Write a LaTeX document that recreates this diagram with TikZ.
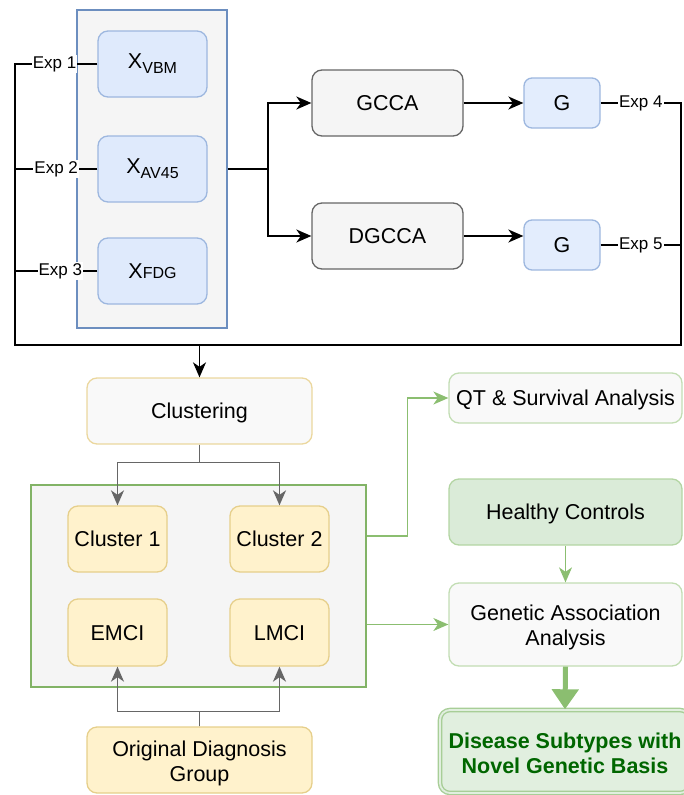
\documentclass[tikz,border=0pt]{standalone}
\usepackage{fontspec}
\setmainfont{Liberation Sans}
\usetikzlibrary{arrows.meta,calc}
\definecolor{bstroke}{HTML}{6C8EBF}
\definecolor{xstroke}{HTML}{9DB7DF}
\definecolor{xfill}{HTML}{DFEAFC}
\definecolor{gfill}{HTML}{E3EDFD}
\definecolor{grayfill}{HTML}{F5F5F5}
\definecolor{graystroke}{HTML}{666666}
\definecolor{clstroke}{HTML}{EBD79E}
\definecolor{yfill}{HTML}{FFF2CC}
\definecolor{ystroke}{HTML}{E6CF8B}
\definecolor{gstroke}{HTML}{82B366}
\definecolor{glight}{HTML}{C2DDB3}
\definecolor{hfill}{HTML}{DAEBD8}
\definecolor{hstroke}{HTML}{B3D5A3}
\definecolor{dfill}{HTML}{E1EFDF}
\definecolor{dstroke}{HTML}{A8CE97}
\definecolor{dtext}{HTML}{006600}
\definecolor{garrowc}{HTML}{8BBE70}
\tikzset{
  txt/.style={font=\fontsize{21.5}{25}\selectfont, align=center},
  one/.style={text height=15.4pt, text depth=0pt},
  nbox/.style={txt, rounded corners=10pt, line width=1.3pt, inner sep=0pt},
  container/.style={draw=bstroke, fill=grayfill, line width=1.3pt, inner sep=0pt},
  xbox/.style={nbox, draw=xstroke, fill=xfill},
  gbox/.style={nbox, one, draw=graystroke, fill=grayfill},
  bluebox/.style={nbox, one, rounded corners=8pt, draw=xstroke, fill=gfill},
  clbox/.style={nbox, draw=clstroke, fill=grayfill!60!white},
  ybox/.style={nbox, draw=ystroke, fill=yfill},
  lgbox/.style={nbox, draw=glight, fill=grayfill!60!white},
  hbox/.style={nbox, draw=hstroke, fill=hfill},
  conn/.style={line width=1.6pt, black},
  tip/.style={-{Stealth[length=15pt,width=13pt,inset=4.5pt]}},
  carrow/.style={conn, tip},
  grarrow/.style={line width=1.6pt, graystroke, tip},
  garrow/.style={line width=1.4pt, garrowc, tip},
  lbl/.style={fill=white, inner sep=1pt, font=\fontsize{17}{20}\selectfont},
}
\newcommand{\bigx}{{\fontsize{21.5}{25}\selectfont X}}
\newcommand{\subt}[1]{\raisebox{-5pt}{\fontsize{16}{18}\selectfont #1}}
\newcommand{\topstrut}{\rule{0pt}{22pt}}
\begin{document}
\begin{tikzpicture}[x=1pt,y=-1pt]
\useasboundingbox (0,0) rectangle (683,795);

% top part
\node[container, minimum width=150, minimum height=318] (topbox) at (152,169) {};
\node[xbox, minimum width=109, minimum height=66] (xvbm) at (152.5,64) {\bigx\subt{VBM}};
\node[xbox, minimum width=109, minimum height=66] (xav) at (152.5,169) {\bigx\subt{AV45}};
\node[xbox, minimum width=109, minimum height=66] (xfdg) at (152.5,271) {\bigx{\fontsize{16}{18}\selectfont FDG}};

\node[gbox, minimum width=151, minimum height=66] (gcca) at (387.5,103) {GCCA};
\node[gbox, minimum width=151, minimum height=66] (dgcca) at (387.5,236) {DGCCA};
\node[bluebox, minimum width=76, minimum height=50] (g1) at (562,103) {G};
\node[bluebox, minimum width=76, minimum height=50] (g2) at (562,245) {G};

\coordinate (L) at (15,345);
\coordinate (R) at (681,345);
\coordinate (J) at (268,169);

\draw[conn] (xvbm.west) -- node[lbl, pos=0.52]{Exp 1} (xvbm.west -| L);
\draw[conn] (xav.west) -- node[lbl, pos=0.5]{Exp 2} (xav.west -| L);
\draw[conn] (xfdg.west) -- node[lbl, pos=0.45]{Exp 3} (xfdg.west -| L);
\draw[conn] (g1.east) -- node[lbl, pos=0.5]{Exp 4} (g1.east -| R);
\draw[conn] (g2.east) -- node[lbl, pos=0.5]{Exp 5} (g2.east -| R);
\draw[conn, line cap=rect] (xvbm.west -| L) -- (L) -- (R) -- (g1.east -| R);

\draw[conn] (topbox.east) -- (J);
\draw[carrow] (J) |- (gcca.west);
\draw[carrow] (J) |- (dgcca.west);
\draw[carrow] (gcca.east) -- (g1.west);
\draw[carrow] (dgcca.east) -- (dgcca.east -| g2.west);

% bottom part
\node[clbox, one, minimum width=225, minimum height=66] (clustering) at (199.5,411) {Clustering};
\draw[carrow] (clustering.north |- L) -- (clustering.north);

\node[container, draw=gstroke, minimum width=335, minimum height=202] (greenbox) at (198.5,586) {};
\node[ybox, one, minimum width=99, minimum height=66] (c1) at (117.5,539) {Cluster 1};
\node[ybox, one, minimum width=99, minimum height=66] (c2) at (279.5,539) {Cluster 2};
\node[ybox, one, minimum width=99, minimum height=67] (emci) at (117.5,632.5) {EMCI};
\node[ybox, one, minimum width=99, minimum height=67] (lmci) at (279.5,632.5) {LMCI};
\node[ybox, minimum width=225, minimum height=66] (odg) at (199.5,760) {\topstrut Original Diagnosis\\Group};

\draw[grarrow] (clustering.south) -- ++(0,18) -| (c1.north);
\draw[grarrow] (clustering.south) -- ++(0,18) -| (c2.north);
\draw[grarrow] (odg.north) -- ++(0,-15) -| (emci.south);
\draw[grarrow] (odg.north) -- ++(0,-15) -| (lmci.south);

\node[lgbox, one, minimum width=233, minimum height=50] (qt) at (565.5,398) {QT \& Survival Analysis};
\node[hbox, one, minimum width=233, minimum height=66] (healthy) at (565.5,512) {Healthy Controls};
\node[lgbox, minimum width=233, minimum height=83] (genetic) at (565.5,624.5) {\topstrut Genetic Association\\Analysis};
\node[nbox, draw=dstroke, fill=dfill, double=dfill, double distance=1.8pt, line width=1.4pt,
      minimum width=250, minimum height=83, text=dtext, font=\fontsize{21.5}{25}\selectfont\bfseries]
      (disease) at (565,751.5) {\rule{0pt}{20pt}Disease Subtypes with\\Novel Genetic Basis};

\draw[garrow] ([yshift=50pt]greenbox.east) -- ++(41,0) |- (qt.west);
\draw[garrow] (genetic.west -| greenbox.east) -- (genetic.west);
\draw[garrow] (healthy.south) -- (genetic.north);
\draw[line width=5pt, garrowc, -{Triangle[length=20pt,width=26pt]}] (genetic.south) -- (disease.north);
\end{tikzpicture}
\end{document}
